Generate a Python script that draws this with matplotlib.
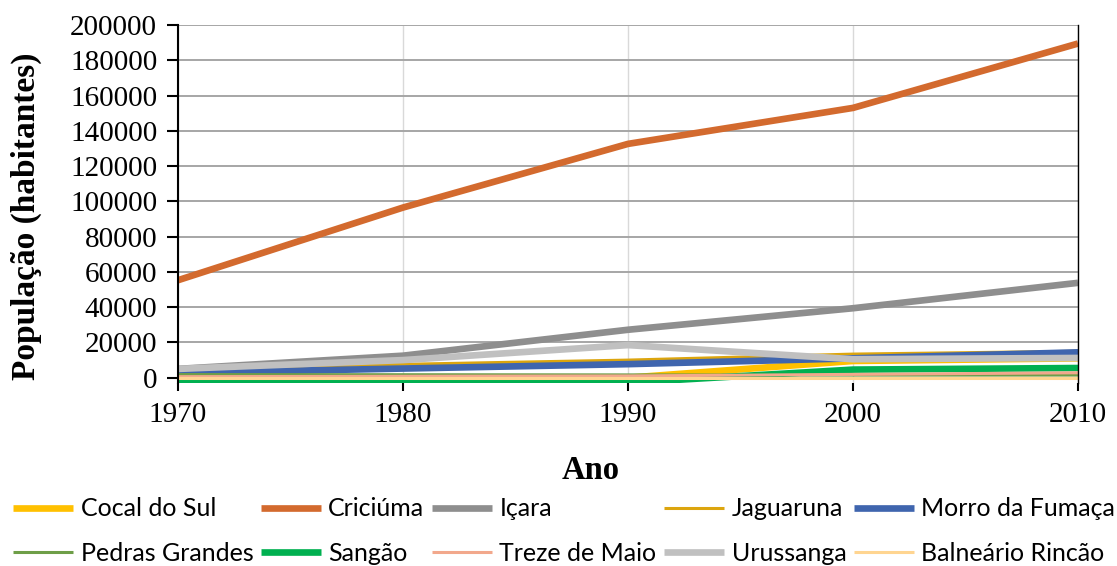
import matplotlib.pyplot as plt
import numpy as np

# population by municipality, census years
anos = [1970, 1980, 1990, 2000, 2010]

cocal_do_sul = [0, 0, 0, 9500, 11000]
criciuma = [55300, 96500, 132600, 153000, 189500]
icara = [5000, 12500, 27200, 39400, 53800]
jaguaruna = [5000, 7600, 10000, 13400, 15000]
morro_da_fumaca = [2700, 5200, 7700, 11000, 14400]
pedras_grandes = [1800, 1700, 1600, 1500, 1500]
sangao = [-2800, -2800, -2800, 4600, 5500]
treze_de_maio = [600, 800, 1000, 1900, 2800]
urussanga = [5000, 10000, 18500, 10500, 11200]
balneario_rincao = [0, 0, 0, 0, 0]

nomes = ['Cocal do Sul', 'Criciúma', 'Içara', 'Jaguaruna', 'Morro da Fumaça',
         'Pedras Grandes', 'Sangão', 'Treze de Maio', 'Urussanga', 'Balneário Rincão']
series = [cocal_do_sul, criciuma, icara, jaguaruna, morro_da_fumaca,
          pedras_grandes, sangao, treze_de_maio, urussanga, balneario_rincao]
cores = ['#FFC000', '#D36A2E', '#8E8E8E', '#DCA50E', '#3F65AE',
         '#6E9E48', '#00B050', '#F2A88C', '#C0C0C0', '#FFD591']
larguras = [4.8, 4.8, 4.8, 2.2, 4.8, 2.2, 4.8, 2.2, 4.8, 2.2]

fig = plt.figure(figsize=(11.17, 5.66), dpi=100)
ax = fig.add_axes([0.1594, 0.3233, 0.8057, 0.6325])

linhas = []
for nome, valores, cor, lw in zip(nomes, series, cores, larguras):
    l, = ax.plot(anos, valores, color=cor, linewidth=lw, label=nome,
                 solid_capstyle='butt', solid_joinstyle='miter')
    linhas.append(l)

ax.set_xlim(1970, 2010)
ax.set_ylim(-3000, 200000)
ax.set_yticks(np.arange(0, 200001, 20000))
ax.set_xticks(anos)

ax.grid(axis='y', color='#A6A6A6', linewidth=1.4, zorder=0)
ax.grid(axis='x', color='#D9D9D9', linewidth=1.0, zorder=0)
ax.set_axisbelow(True)

for lado in ['top', 'bottom']:
    ax.spines[lado].set_visible(False)
ax.spines['left'].set_color('black')
ax.spines['left'].set_linewidth(1.5)
ax.spines['right'].set_color('black')
ax.spines['right'].set_linewidth(1.0)

serif = 'Liberation Serif'
ax.tick_params(axis='y', direction='out', length=8, width=1.5, pad=7,
               labelsize=21)
ax.tick_params(axis='x', direction='out', length=6, width=1.5, pad=8,
               labelsize=21)
for t in ax.get_xticklabels() + ax.get_yticklabels():
    t.set_fontfamily(serif)

ax.set_xlabel('Ano', fontfamily=serif, fontweight='bold', fontsize=23.5)
ax.xaxis.set_label_coords(0.458, -0.201)
ax.set_ylabel('População (habitantes)', fontfamily=serif, fontweight='bold',
              fontsize=24)
ax.yaxis.set_label_coords(-0.151, 0.465)

# legend laid out row by row: reorder for column-major filling
ordem = [0, 5, 1, 6, 2, 7, 3, 8, 4, 9]
fig.legend([linhas[i] for i in ordem], [nomes[i] for i in ordem],
           loc='center', bbox_to_anchor=(0.505, 0.062), ncol=5, frameon=False,
           prop={'family': 'Lato', 'size': 18}, handlelength=2.4,
           handletextpad=0.3, columnspacing=0.3, labelspacing=0.85,
           borderpad=0, borderaxespad=0)

fig.savefig('out.png', dpi=100)
